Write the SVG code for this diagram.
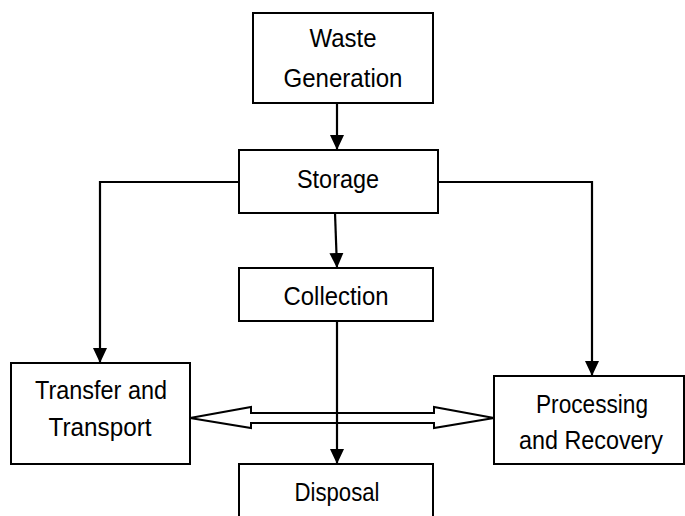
<svg xmlns="http://www.w3.org/2000/svg" width="685" height="516" viewBox="0 0 685 516">
<style>
.box{fill:#fff;stroke:#000;stroke-width:2}
.t{font-family:"Liberation Sans",Arial,sans-serif;font-size:25px;fill:#000;text-anchor:middle}
.c{fill:none;stroke:#000;stroke-width:2.2}
</style>
<defs>
<marker id="ah" markerUnits="userSpaceOnUse" markerWidth="15" markerHeight="15" viewBox="0 0 15 14" refX="15" refY="7" orient="auto">
<path d="M0,0 L15,7 L0,14 Z" fill="#000"/>
</marker>
</defs>
<rect width="685" height="516" fill="#fff"/>
<g id="connectors">
<path class="c" d="M337,103 L337,150" marker-end="url(#ah)"/>
<path class="c" d="M335,213 L337,268" marker-end="url(#ah)"/>
<path class="c" d="M239,182 L100,182 L100,363" marker-end="url(#ah)"/>
<path class="c" d="M438,182 L592,182 L592,376" marker-end="url(#ah)"/>
<polygon points="190,418 251,407 251,413 434,413 434,407 494,418 434,428 434,423 251,423 251,428" fill="#fff" stroke="#000" stroke-width="2" stroke-linejoin="miter"/>
<path class="c" d="M337,321 L337,464" marker-end="url(#ah)"/>
</g>
<g id="waste">
<rect class="box" x="253" y="13" width="180" height="90"/>
<text class="t" x="343" y="47" textLength="67" lengthAdjust="spacingAndGlyphs">Waste</text>
<text class="t" x="343" y="87" textLength="119" lengthAdjust="spacingAndGlyphs">Generation</text>
</g>
<g id="storage">
<rect class="box" x="239" y="150" width="199" height="63"/>
<text class="t" x="338" y="188" textLength="82" lengthAdjust="spacingAndGlyphs">Storage</text>
</g>
<g id="collection">
<rect class="box" x="239" y="268" width="194" height="53"/>
<text class="t" x="336" y="305" textLength="105" lengthAdjust="spacingAndGlyphs">Collection</text>
</g>
<g id="transfer">
<rect class="box" x="11" y="363" width="179" height="101"/>
<text class="t" x="101" y="399" textLength="132" lengthAdjust="spacingAndGlyphs">Transfer and</text>
<text class="t" x="100" y="436" textLength="103" lengthAdjust="spacingAndGlyphs">Transport</text>
</g>
<g id="processing">
<rect class="box" x="494" y="376" width="190" height="88"/>
<text class="t" x="592" y="413" textLength="112" lengthAdjust="spacingAndGlyphs">Processing</text>
<text class="t" x="591" y="449" textLength="144" lengthAdjust="spacingAndGlyphs">and Recovery</text>
</g>
<g id="disposal">
<rect class="box" x="239" y="464" width="194" height="60"/>
<text class="t" x="337" y="501" textLength="85" lengthAdjust="spacingAndGlyphs">Disposal</text>
</g>
</svg>
